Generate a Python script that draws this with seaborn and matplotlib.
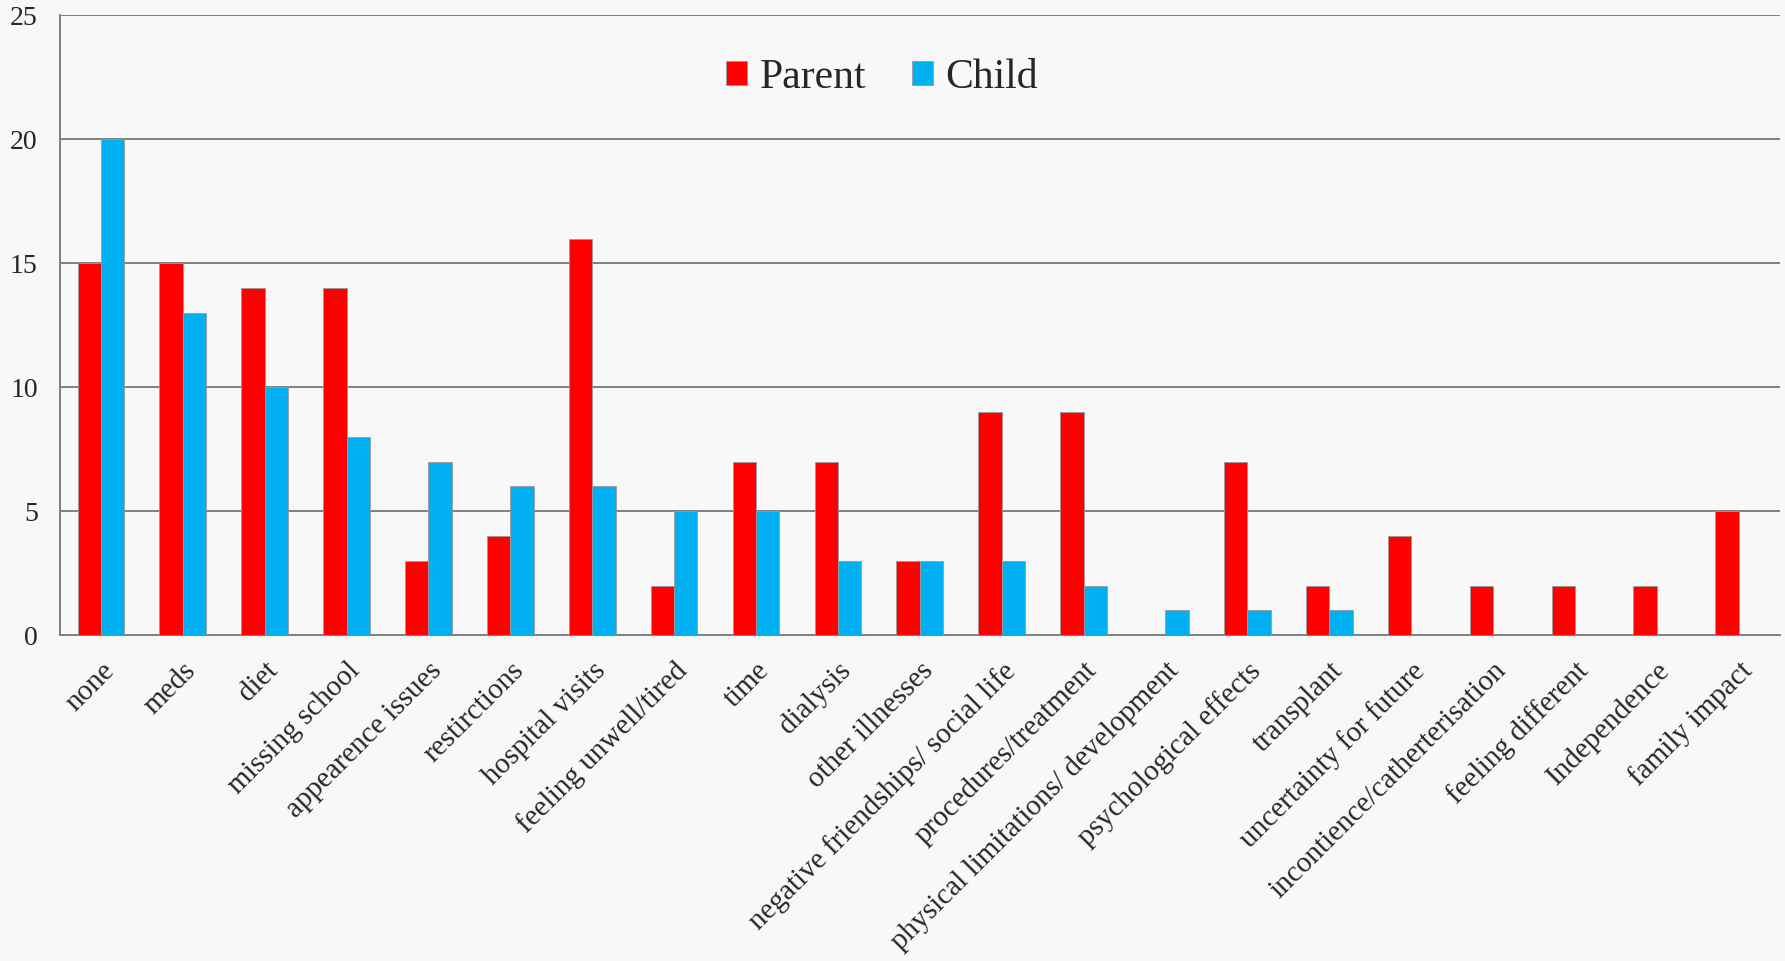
import matplotlib
matplotlib.use("Agg")
import matplotlib.pyplot as plt
import seaborn as sns
import pandas as pd

categories = [
    "none", "meds", "diet", "missing school", "appearence issues",
    "restirctions", "hospital visits", "feeling unwell/tired", "time",
    "dialysis", "other illnesses", "negative friendships/ social life",
    "procedures/treatment", "physical limitations/ development",
    "psychological effects", "transplant", "uncertainty for future",
    "incontience/catherterisation", "feeling different", "Independence",
    "family impact",
]
parent = [15, 15, 14, 14, 3, 4, 16, 2, 7, 7, 3, 9, 9, 0, 7, 2, 4, 2, 2, 2, 5]
child = [20, 13, 10, 8, 7, 6, 6, 5, 5, 3, 3, 3, 2, 1, 1, 1, 0, 0, 0, 0, 0]
groups = ["Parent", "Child"]
yticks = [0, 5, 10, 15, 20, 25]

df = pd.DataFrame({
    "category": categories * 2,
    "count": parent + child,
    "group": [groups[0]] * len(categories) + [groups[1]] * len(categories),
})

sns.set_theme(style="white")
plt.rcParams["font.family"] = ["Liberation Serif", "DejaVu Serif"]

bg = "#f8f8f8"
fig = plt.figure(figsize=(17.85, 9.61), dpi=100, facecolor=bg)
ax = fig.add_axes([0.0336, 0.339, 0.9634, 0.645])
ax.set_facecolor(bg)

sns.barplot(
    data=df, x="category", y="count", hue="group", order=categories,
    hue_order=groups, palette={"Parent": "#ff0000", "Child": "#00b0f0"},
    width=0.57, gap=0, edgecolor="#9a9a9a", linewidth=0.6,
    saturation=1, ax=ax, zorder=3, legend=True,
)

ax.set_ylim(0, 25)
ax.set_xlim(-0.5, len(categories) - 0.5)
ax.set_yticks(yticks)
ax.set_yticklabels([str(v) for v in yticks], fontsize=20)
ax.yaxis.grid(True, color="#808080", linewidth=1.4, zorder=0)
ax.set_axisbelow(True)
ax.tick_params(axis="both", length=0)
ax.tick_params(axis="y", pad=16)
ax.tick_params(axis="x", pad=16)
ax.set_xticks(range(len(categories)))
ax.set_xticklabels(categories, rotation=45, ha="right",
                   rotation_mode="anchor", fontsize=21)
ax.set_xlabel("")
ax.set_ylabel("")

for side in ["top", "right"]:
    ax.spines[side].set_visible(False)
for side in ["left", "bottom"]:
    ax.spines[side].set_color("#808080")
    ax.spines[side].set_linewidth(1.4)

leg = ax.legend(
    loc="center", bbox_to_anchor=(0.478, 0.90), ncol=2, frameon=False,
    fontsize=30, handlelength=0.5, handleheight=0.5, handletextpad=0.3,
    columnspacing=1.1,
)

fig.savefig("out.png", dpi=100, facecolor=bg)
